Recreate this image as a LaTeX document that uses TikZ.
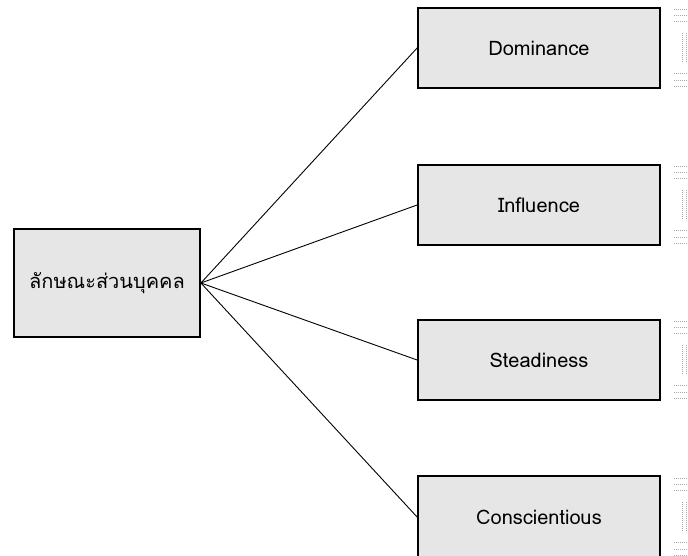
\documentclass[tikz,border=0pt]{standalone}
\usepackage{fontspec}
\newfontfamily\thaifont[Script=Thai]{Loma}
\definecolor{boxfill}{HTML}{E6E6E6}
\definecolor{marks}{HTML}{A8A8A8}
\begin{document}
\begin{tikzpicture}[x=1pt,y=-1pt,
  box/.style={draw=black,line width=1.8pt,fill=boxfill,inner sep=0pt,font=\thaifont\fontsize{20}{24}\selectfont},
  link/.style={line width=0.9pt},
  mk/.style={draw=marks,line width=0.6pt,dash pattern=on 1.2pt off 0.8pt}]
\useasboundingbox (0,0) rectangle (688,556);
\node[box,minimum width=186pt,minimum height=108pt] (p) at (107,283) {ลักษณะส่วนบุคคล};
\node[box,minimum width=242pt,minimum height=80pt] (d) at (539,48) {Dominance};
\node[box,minimum width=242pt,minimum height=80pt] (i) at (539,205) {Influence};
\node[box,minimum width=242pt,minimum height=80pt] (s) at (539,360) {Steadiness};
\node[box,minimum width=242pt,minimum height=82pt] (c) at (539,517) {Conscientious};
\foreach \t in {d,i,s,c}{\draw[link] (p.east) -- (\t.west);}
\foreach \t in {d,i,s,c}{
  \foreach \k in {39,33,27,-25,-32,-38}{\draw[mk] ([xshift=13pt,yshift=\k pt]\t.east) -- ++(15,0);}
  \foreach \v in {21,25}{\draw[mk] ([xshift=\v pt,yshift=15pt]\t.east) -- ++(0,30);}
}
\end{tikzpicture}
\end{document}
